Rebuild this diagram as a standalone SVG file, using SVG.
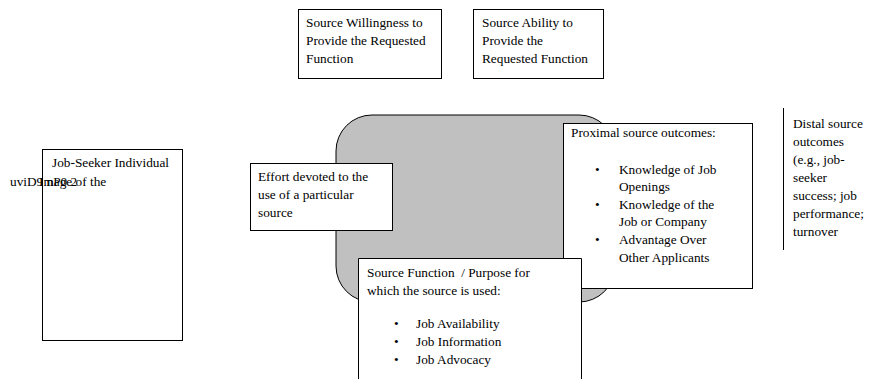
<svg xmlns="http://www.w3.org/2000/svg" width="876" height="379" viewBox="0 0 876 379">
<style>
.box{fill:#fff;stroke:#000;stroke-width:1}
text{font-family:"Liberation Serif","Times New Roman",serif;font-size:13.3px;fill:#000;white-space:pre}
</style>
<rect width="876" height="379" fill="#fff"/>
<g id="gray-area"><rect x="336" y="115" width="279" height="187" rx="36" ry="36" fill="#c0c0c0" stroke="#000" stroke-width="1"/></g>
<g id="willingness"><rect class="box" x="298.5" y="9.5" width="143" height="69"/>
<text x="306" y="27">Source Willingness to</text><text x="306" y="45">Provide the Requested</text><text x="306" y="63">Function</text></g>
<g id="ability"><rect class="box" x="473.5" y="9.5" width="130" height="69"/>
<text x="482" y="27">Source Ability to</text><text x="482" y="45">Provide the</text><text x="482" y="63">Requested Function</text></g>
<g id="jobseeker"><rect class="box" x="42.5" y="149.5" width="140" height="191"/>
<text x="52" y="167">Job-Seeker Individual</text>
<text x="10" y="186">uviD9 nP0 2</text><text x="39" y="186">Image of the</text></g>
<g id="effort"><rect class="box" x="250.5" y="163.5" width="142" height="67"/>
<text x="258" y="181">Effort devoted to the</text><text x="258" y="199">use of a particular</text><text x="258" y="217">source</text></g>
<g id="proximal"><rect class="box" x="563.5" y="123.5" width="189" height="165"/>
<text x="571" y="137">Proximal source outcomes:</text>
<text x="595" y="174">•</text><text x="619" y="174">Knowledge of Job</text><text x="619" y="191">Openings</text>
<text x="595" y="209">•</text><text x="619" y="209">Knowledge of the</text><text x="619" y="226">Job or Company</text>
<text x="595" y="244">•</text><text x="619" y="244">Advantage Over</text><text x="619" y="262">Other Applicants</text></g>
<g id="function"><path class="box" d="M358.5,379 V258.5 H581.5 V379"/>
<text x="367" y="277">Source Function  / Purpose for</text><text x="367" y="295">which the source is used:</text>
<text x="394" y="328">•</text><text x="416" y="328">Job Availability</text>
<text x="394" y="346">•</text><text x="416" y="346">Job Information</text>
<text x="394" y="364">•</text><text x="416" y="364">Job Advocacy</text></g>
<g id="distal"><line x1="783.5" y1="108" x2="783.5" y2="250" stroke="#000"/>
<text x="793" y="128">Distal source</text><text x="793" y="146">outcomes</text><text x="793" y="164">(e.g., job-</text><text x="793" y="182">seeker</text><text x="793" y="200">success; job</text><text x="793" y="218">performance;</text><text x="793" y="236">turnover</text></g>
<g id="connectors"></g>
</svg>
